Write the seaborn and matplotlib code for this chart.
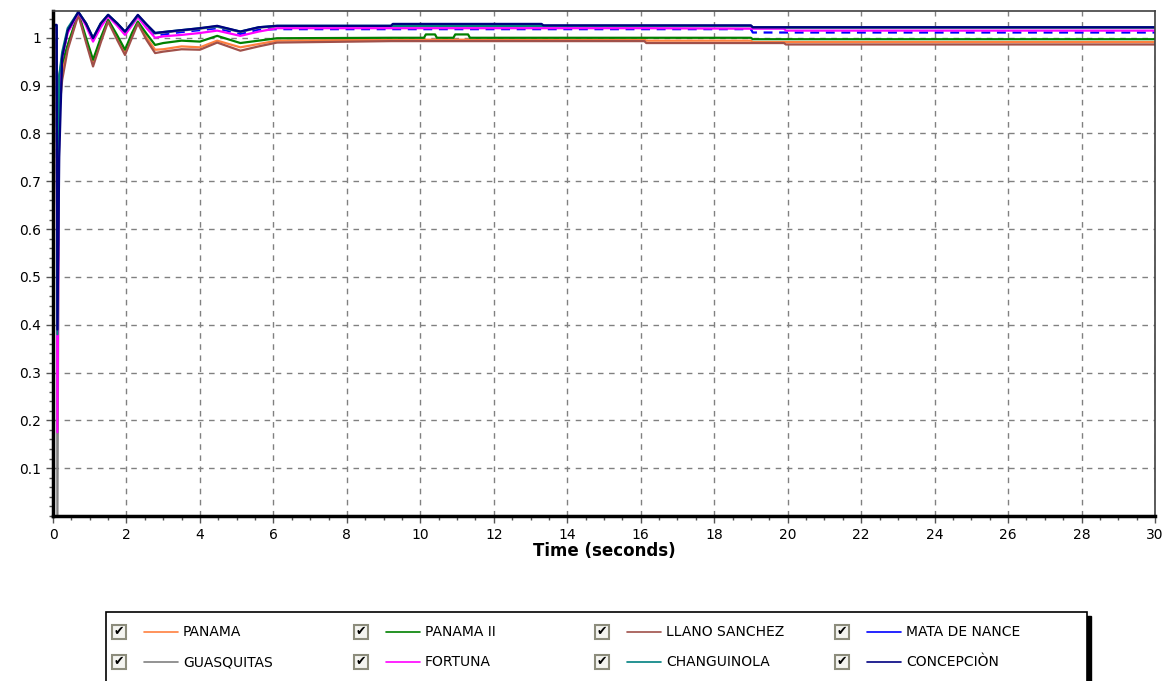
import numpy as np
import pandas as pd
import seaborn as sns
import matplotlib.pyplot as plt
from matplotlib.patches import Rectangle
from matplotlib.lines import Line2D
from matplotlib.ticker import MultipleLocator, FuncFormatter

# time axis (seconds), shared by all series
t = [0.0, 0.10, 0.12, 0.17, 0.25, 0.40, 0.69, 0.90, 1.09, 1.30, 1.50, 1.75,
     1.96, 2.15, 2.31, 2.55, 2.78, 3.0, 3.5, 4.0, 4.47, 5.1, 5.6,
     6.1, 9.2, 9.25, 10.1, 10.15, 10.4, 10.45, 10.9, 10.95, 11.3, 11.35,
     13.3, 13.35, 16.1, 16.15, 19.0, 19.05, 19.9, 19.95, 30.0]

panama = [0.993, 0.993, 0.40, 0.88, 0.93, 0.98, 1.05, 0.995, 0.948, 0.995, 1.036, 1.0,
          0.967, 1.005, 1.032, 1.0, 0.975, 0.976, 0.982, 0.98, 0.994, 0.98, 0.987,
          0.994, 0.996, 0.996, 0.996, 0.996, 0.996, 0.996, 0.996, 0.996, 0.996, 0.996,
          0.996, 0.996, 0.996, 0.994, 0.994, 0.991, 0.991, 0.991, 0.991]
panama2 = [0.995, 0.995, 0.40, 0.92, 0.947, 0.985, 1.052, 1.0, 0.954, 1.0, 1.038, 1.005,
           0.975, 1.01, 1.034, 1.008, 0.985, 0.989, 0.994, 0.992, 1.004, 0.989, 0.994,
           0.999, 1.0, 1.0, 1.0, 1.007, 1.007, 1.0, 1.0, 1.007, 1.007, 1.0,
           1.0, 1.0, 1.0, 1.0, 1.0, 0.997, 0.997, 0.997, 0.997]
llano = [0.99, 0.99, 0.40, 0.845, 0.912, 0.975, 1.048, 0.99, 0.940, 0.99, 1.034, 0.995,
         0.964, 1.0, 1.03, 0.995, 0.968, 0.971, 0.976, 0.975, 0.99, 0.973, 0.982,
         0.990, 0.993, 0.993, 0.993, 0.993, 0.993, 0.993, 0.993, 0.993, 0.993, 0.993,
         0.993, 0.993, 0.993, 0.989, 0.989, 0.989, 0.989, 0.986, 0.986]
mata = [1.02, 1.02, 0.39, 0.85, 0.96, 1.012, 1.053, 1.028, 0.995, 1.028, 1.046, 1.028,
        1.01, 1.03, 1.045, 1.024, 1.005, 1.007, 1.012, 1.016, 1.02, 1.008, 1.017,
        1.018, 1.018, 1.018, 1.018, 1.018, 1.018, 1.018, 1.018, 1.018, 1.018, 1.018,
        1.018, 1.018, 1.018, 1.018, 1.018, 1.011, 1.011, 1.011, 1.011]
guasquitas = [1.02, 1.02, 0.0, 0.92, 0.96, 1.015, 1.053, 1.03, 0.999, 1.03, 1.047, 1.03,
              1.012, 1.03, 1.046, 1.026, 1.009, 1.011, 1.015, 1.019, 1.023, 1.012, 1.021,
              1.024, 1.024, 1.024, 1.024, 1.024, 1.024, 1.024, 1.024, 1.024, 1.024, 1.024,
              1.024, 1.024, 1.024, 1.024, 1.024, 1.021, 1.021, 1.021, 1.021]
fortuna = [1.02, 1.02, 0.175, 0.90, 0.96, 1.01, 1.053, 1.025, 0.992, 1.022, 1.045, 1.025,
           1.006, 1.026, 1.043, 1.02, 1.0, 1.003, 1.006, 1.01, 1.015, 1.004, 1.013,
           1.020, 1.020, 1.020, 1.020, 1.020, 1.020, 1.020, 1.020, 1.020, 1.020, 1.020,
           1.020, 1.020, 1.020, 1.020, 1.019, 1.019, 1.019, 1.015, 1.015]
changuinola = [1.025, 1.025, 0.38, 0.92, 0.97, 1.02, 1.054, 1.03, 1.0, 1.03, 1.048, 1.03,
               1.013, 1.03, 1.047, 1.027, 1.010, 1.012, 1.016, 1.02, 1.024, 1.013, 1.022,
               1.025, 1.025, 1.025, 1.025, 1.025, 1.025, 1.025, 1.025, 1.025, 1.025, 1.025,
               1.025, 1.025, 1.025, 1.025, 1.025, 1.022, 1.022, 1.022, 1.022]
concepcion = [1.027, 1.027, 0.39, 0.75, 0.96, 1.015, 1.054, 1.03, 0.999, 1.03, 1.048, 1.03,
              1.013, 1.032, 1.048, 1.028, 1.010, 1.012, 1.016, 1.020, 1.025, 1.013, 1.022,
              1.025, 1.025, 1.029, 1.029, 1.029, 1.029, 1.029, 1.029, 1.029, 1.029, 1.029,
              1.029, 1.026, 1.026, 1.026, 1.026, 1.022, 1.022, 1.022, 1.022]

names = ["PANAMA", "PANAMA II", "LLANO SANCHEZ", "MATA DE NANCE",
         "GUASQUITAS", "FORTUNA", "CHANGUINOLA", "CONCEPCIÒN"]
values = [panama, panama2, llano, mata, guasquitas, fortuna, changuinola, concepcion]
colors = ["#ff8040", "#008000", "#a0504a", "#0000ff",
          "#808080", "#ff00ff", "#008080", "#000080"]

df = pd.concat([pd.DataFrame({"time": t, "value": v, "series": n})
                for n, v in zip(names, values)], ignore_index=True)

sns.set_style("white")
plt.rcParams["font.family"] = ["DejaVu Sans"]

fig = plt.figure(figsize=(11.71, 6.81), dpi=100)
ax = fig.add_axes([53 / 1171, 1 - 516 / 681, 1102 / 1171, 505 / 681])

dash_map = {n: "" for n in names}
dash_map["MATA DE NANCE"] = (4, 3)
sns.lineplot(data=df, x="time", y="value", hue="series", style="series",
             hue_order=names, style_order=names, palette=dict(zip(names, colors)),
             dashes=dash_map, estimator=None, sort=False, linewidth=1.6,
             legend=False, ax=ax)

ax.set_xlim(0, 30)
ax.set_ylim(0, 1.056)
ax.xaxis.set_major_locator(MultipleLocator(2))
ax.xaxis.set_minor_locator(MultipleLocator(0.5))
ax.set_yticks([0.1, 0.2, 0.3, 0.4, 0.5, 0.6, 0.7, 0.8, 0.9, 1.0])
ax.yaxis.set_minor_locator(MultipleLocator(0.02))
ax.yaxis.set_major_formatter(FuncFormatter(lambda v, p: f"{v:g}"))
ax.tick_params(which="major", direction="out", length=5, width=1, color="#555555",
               labelsize=10, labelcolor="black", left=True, bottom=True)
ax.tick_params(which="minor", direction="out", length=3, width=1, color="#555555",
               left=True, bottom=True)
ax.grid(True, which="major", linestyle=(0, (4, 4)), color="#808080", linewidth=1)
ax.set_xlabel("Time (seconds)", fontsize=12, fontweight="bold", color="black", labelpad=0)
ax.set_ylabel("")

for s in ["left", "bottom"]:
    ax.spines[s].set_linewidth(2.5)
    ax.spines[s].set_color("black")
for s in ["top", "right"]:
    ax.spines[s].set_linewidth(1.2)
    ax.spines[s].set_color("#404040")


def px(x, y):
    return x / 1171, 1 - y / 681


# legend box with check boxes
x0, y0 = px(106, 612)
x1, y1 = px(1087, 700)
fig.patches.append(Rectangle((x0 + 4 / 1171, y1 - 4 / 681), x1 - x0, y0 - y1,
                             transform=fig.transFigure, facecolor="black",
                             edgecolor="black", zorder=1))
fig.patches.append(Rectangle((x0, y1), x1 - x0, y0 - y1, transform=fig.transFigure,
                             facecolor="white", edgecolor="black", linewidth=1.2, zorder=2))

col_x = [119, 361, 602, 842]
row_y = [632, 662]
for i, (n, c) in enumerate(zip(names, colors)):
    cx = col_x[i % 4]
    cy = row_y[i // 4]
    bx, by = px(cx - 7, cy + 7)
    fig.patches.append(Rectangle((bx, by), 14 / 1171, 14 / 681, transform=fig.transFigure,
                                 facecolor="#f4f4f0", edgecolor="#8c8c7c",
                                 linewidth=1.5, zorder=3))
    tx, ty = px(cx, cy)
    fig.text(tx, ty, "✔", fontsize=9, ha="center", va="center", color="black", zorder=4)
    lx0, ly = px(cx + 25, cy)
    lx1, _ = px(cx + 59, cy)
    fig.lines.append(Line2D([lx0, lx1], [ly, ly], transform=fig.transFigure,
                            color=c, linewidth=1.2, zorder=4))
    sx, sy = px(cx + 64, cy)
    fig.text(sx, sy, n, fontsize=10, ha="left", va="center", color="black", zorder=4)

fig.savefig("out.png", dpi=100)
